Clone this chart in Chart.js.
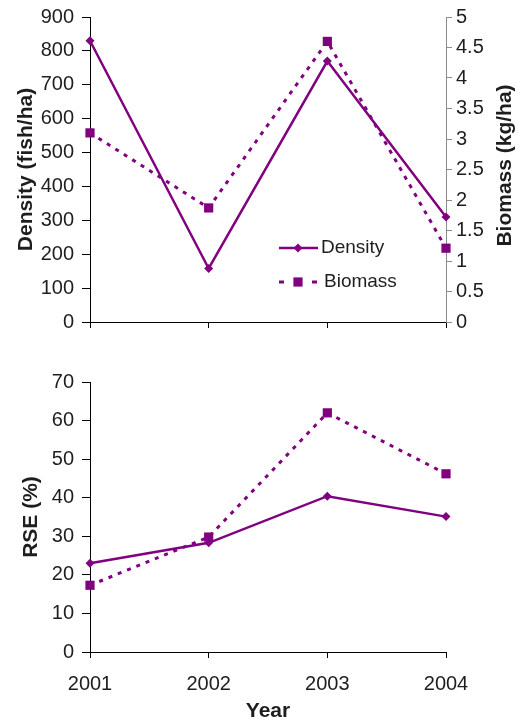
<!DOCTYPE html>
<html>
<head>
<meta charset="utf-8">
<script src="https://cdn.jsdelivr.net/npm/chart.js@4.4.1/dist/chart.umd.min.js"></script>
<style>
    html, body { margin: 0; padding: 0; background: #fff; }
    .panel { position: relative; width: 520px; }
    canvas { display: block; }
</style>
</head>
<body>
<div class="panel" style="height:340px"><canvas id="densityChart" width="520" height="340"></canvas></div>
<div class="panel" style="height:384px"><canvas id="rseChart" width="520" height="384"></canvas></div>

<script>
// ================================
// FISH SURVEY - DENSITY / BIOMASS / RSE
// ================================

const years = ["2001", "2002", "2003", "2004"];

// top panel
const densityFish = [830, 158, 770, 310];      // fish/ha
const biomassKg = [3.1, 1.87, 4.6, 1.21];      // kg/ha

// bottom panel
const rseDensity = [23, 28.3, 40.4, 35.1];     // %
const rseBiomass = [17.3, 29.8, 62, 46.2];     // %

const densityTicks = { min: 0, max: 900, step: 100 };
const biomassTicks = { min: 0, max: 5, step: 0.5 };
const rseTicks = { min: 0, max: 70, step: 10 };

const PURPLE = "#800080";
const FONT = "'Liberation Sans', Arial, sans-serif";
const TEXT = "#1e1e1e";

Chart.defaults.font.family = FONT;
Chart.defaults.color = TEXT;

const tickFont = { size: 20 };
const titleFont = { size: 21, weight: "bold" };

// plain numbers: "5", "4.5", no padded decimals
const plainNumber = v => String(Math.round(v * 10) / 10);

// fixed axis width, and no extra room asked for the end labels
const pinWidth = w => s => {
    s.width = w;
    s.paddingTop = 0;
    s.paddingBottom = 0;
};

function solidSeries(label, data, axis) {
    return {
        label, data, yAxisID: axis,
        borderColor: PURPLE, backgroundColor: PURPLE,
        borderWidth: 2.5, tension: 0,
        pointStyle: "rectRot", pointRadius: 4.5, pointBorderWidth: 0,
        pointBackgroundColor: PURPLE, clip: false
    };
}

function dashedSeries(label, data, axis) {
    return {
        label, data, yAxisID: axis,
        borderColor: PURPLE, backgroundColor: PURPLE,
        borderWidth: 3, borderDash: [4, 6], tension: 0,
        pointStyle: "rect", pointRadius: 6.5, pointBorderWidth: 0,
        pointBackgroundColor: PURPLE, clip: false
    };
}

function xAxis(showLabels, height) {
    return {
        type: "category",
        offset: false,
        border: { color: "#000", width: 1 },
        grid: { drawOnChartArea: false, drawTicks: true, tickLength: 6, color: "#000" },
        ticks: { display: showLabels, font: tickFont, padding: 14, maxRotation: 0, autoSkip: false },
        title: showLabels
            ? { display: true, text: "Year", font: titleFont, padding: { top: 0, bottom: 0 } }
            : { display: false },
        afterFit: s => { s.height = height; }
    };
}

function leftAxis(range, title, titlePad) {
    return {
        position: "left",
        min: range.min, max: range.max,
        border: { color: "#000", width: 1 },
        grid: { drawOnChartArea: false, drawTicks: true, tickLength: 8, color: "#000" },
        ticks: { stepSize: range.step, font: tickFont, padding: 8, callback: plainNumber },
        title: { display: true, text: title, font: titleFont, padding: { top: titlePad, bottom: 0 } },
        afterFit: pinWidth(90)
    };
}

/* ------------------------------
   right-hand title reads bottom-to-top, plus the inset legend
------------------------------ */
const topDecor = {
    id: "topDecor",
    afterDraw(chart) {
        const ctx = chart.ctx;
        const area = chart.chartArea;

        ctx.save();
        ctx.font = "bold 21px " + FONT;
        ctx.fillStyle = TEXT;
        ctx.textAlign = "center";
        ctx.textBaseline = "middle";
        ctx.translate(505, (area.top + area.bottom) / 2 - 4);
        ctx.rotate(-Math.PI / 2);
        ctx.fillText("Biomass (kg/ha)", 0, 0);
        ctx.restore();

        // legend
        const rows = [
            { ds: chart.data.datasets[0], y: 248 },
            { ds: chart.data.datasets[1], y: 282 }
        ];
        const x0 = 279, x1 = 318, mid = 298;

        rows.forEach(({ ds, y }) => {
            ctx.save();
            ctx.strokeStyle = ds.borderColor;
            ctx.fillStyle = ds.pointBackgroundColor;
            ctx.lineWidth = ds.borderWidth;

            if (ds.borderDash) {
                ctx.beginPath();
                ctx.moveTo(x0, y); ctx.lineTo(x0 + 5, y);
                ctx.moveTo(x1 - 6, y); ctx.lineTo(x1 - 1, y);
                ctx.stroke();
                const h = ds.pointRadius * Math.SQRT1_2;
                ctx.fillRect(mid - h, y - h, 2 * h, 2 * h);
            } else {
                ctx.beginPath();
                ctx.moveTo(x0, y); ctx.lineTo(x1, y);
                ctx.stroke();
                const r = ds.pointRadius;
                ctx.beginPath();
                ctx.moveTo(mid, y - r); ctx.lineTo(mid + r, y);
                ctx.lineTo(mid, y + r); ctx.lineTo(mid - r, y);
                ctx.closePath();
                ctx.fill();
            }

            ctx.font = "19px " + FONT;
            ctx.fillStyle = TEXT;
            ctx.textAlign = "left";
            ctx.textBaseline = "middle";
            ctx.fillText(ds.label, ds.borderDash ? 324 : 321, y);
            ctx.restore();
        });
    }
};

new Chart(document.getElementById("densityChart"), {
    type: "line",
    data: {
        labels: years,
        datasets: [
            solidSeries("Density", densityFish, "y"),
            dashedSeries("Biomass", biomassKg, "y1")
        ]
    },
    options: {
        responsive: false,
        animation: false,
        layout: { padding: { top: 17, right: 0, bottom: 0, left: 0 } },
        plugins: { legend: { display: false }, tooltip: { enabled: false } },
        scales: {
            x: xAxis(false, 18),
            y: leftAxis(densityTicks, "Density (fish/ha)", 14),
            y1: {
                position: "right",
                min: biomassTicks.min, max: biomassTicks.max,
                border: { color: "#8c8c8c", width: 1 },
                grid: { drawOnChartArea: false, drawTicks: true, tickLength: 6, color: "#8c8c8c" },
                ticks: { stepSize: biomassTicks.step, font: tickFont, padding: 4, callback: plainNumber },
                afterFit: pinWidth(74)
            }
        }
    },
    plugins: [topDecor]
});

new Chart(document.getElementById("rseChart"), {
    type: "line",
    data: {
        labels: years,
        datasets: [
            solidSeries("Density", rseDensity, "y"),
            dashedSeries("Biomass", rseBiomass, "y")
        ]
    },
    options: {
        responsive: false,
        animation: false,
        layout: { padding: { top: 42, right: 74, bottom: 0, left: 0 } },
        plugins: { legend: { display: false }, tooltip: { enabled: false } },
        scales: {
            x: xAxis(true, 72),
            y: leftAxis(rseTicks, "RSE (%)", 19)
        }
    }
});
</script>
</body>
</html>
